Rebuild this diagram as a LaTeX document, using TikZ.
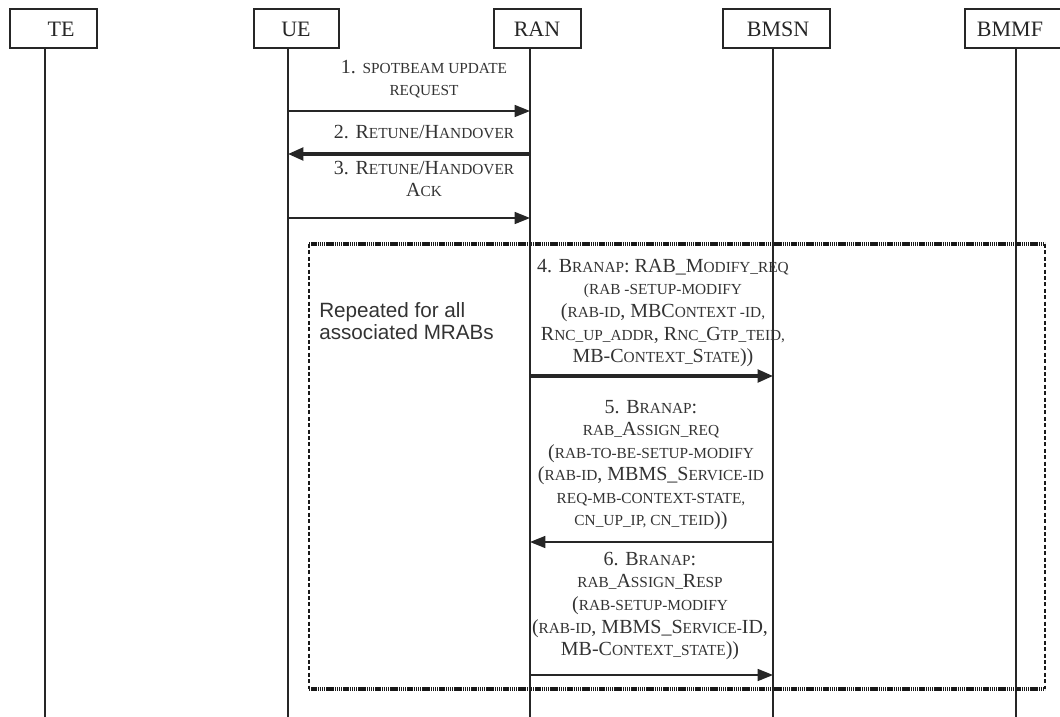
\documentclass[tikz,border=0pt]{standalone}
\usepackage{fontspec}
\setmainfont{Liberation Serif}
\newfontfamily\arialfont{Liberation Sans}
\usetikzlibrary{arrows.meta}
\newcommand\smc[1]{{\fontsize{11.5pt}{16.9pt}\selectfont #1}}
\begin{document}
\begin{tikzpicture}[x=0.75pt,y=-0.75pt,
  ink/.style={black!85},
  hdr/.style={draw=black!85, line width=1.1pt, minimum height=29.25pt, inner sep=0pt},
  hdrtxt/.style={text=black!85, font=\fontsize{16.5pt}{18pt}\selectfont, inner sep=0pt},
  life/.style={draw=black!85, line width=1.1pt},
  msg/.style={draw=black!85, line width=1.1pt, -{Triangle[length=11.5pt,width=9pt]}},
  msgthick/.style={draw=black!85, line width=2.3pt, -{Triangle[length=11.5pt,width=9.5pt]}},
  lbl/.style={text=black!80, align=center, inner sep=0pt, font=\fontsize{15pt}{16.9pt}\selectfont},
  hatch/.style={draw=black!90, line width=3pt, dash pattern=on 1.1pt off 0.5pt},
  sidedash/.style={draw=black!90, line width=2.2pt, dash pattern=on 3pt off 1.8pt},
  note/.style={text=black!80, align=left, inner sep=0pt, font=\arialfont\fontsize{15.5pt}{16.5pt}\selectfont}
]
\useasboundingbox (0,0) rectangle (1060,717);

% header boxes
\node[hdr, minimum width=65.25pt] (te) at (53.5,28.5) {};
\node[hdrtxt] (tet) at (61,29) {TE};
\node[hdr, minimum width=63.75pt] (ue) at (296.5,28.5) {};
\node[hdrtxt] (uet) at (296,29) {UE};
\node[hdr, minimum width=65.25pt] (ran) at (537.5,28.5) {};
\node[hdrtxt] (rant) at (537,29) {RAN};
\node[hdr, minimum width=80.25pt] (bmsn) at (776.5,28.5) {};
\node[hdrtxt] (bmsnt) at (778,29) {BMSN};
\node[hdr, minimum width=75pt] (bmmf) at (1015,28.5) {};
\node[hdrtxt] (bmmft) at (1010,29) {BMMF};

% lifeline ends
\coordinate (teEnd) at (45,717);
\coordinate (ueEnd) at (288,717);
\coordinate (ranEnd) at (530,717);
\coordinate (bmsnEnd) at (773,717);
\coordinate (bmmfEnd) at (1016,717);

\draw[life] (te.south -| teEnd) -- (teEnd);
\draw[life] (ue.south -| ueEnd) -- (ueEnd);
\draw[life] (ran.south -| ranEnd) -- (ranEnd);
\draw[life] (bmsn.south -| bmsnEnd) -- (bmsnEnd);
\draw[life] (bmmf.south -| bmmfEnd) -- (bmmfEnd);

% repeat box
\coordinate (bxTL) at (309,244);
\coordinate (bxTR) at (1045,244);
\coordinate (bxBL) at (309,689);
\coordinate (bxBR) at (1045,689);
\draw[hatch] (bxTL) -- (bxTR);
\draw[hatch] (bxBL) -- (bxBR);
\draw[sidedash] (bxTL) -- (bxBL);
\draw[sidedash] (bxTR) -- (bxBR);
\node[note, anchor=west] (rep) at (319,321) {Repeated for all\\associated MRABs};

% message rows
\coordinate (y1) at (0,111);
\coordinate (y2) at (0,154);
\coordinate (y3) at (0,218);
\coordinate (y4) at (0,376);
\coordinate (y5) at (0,542);
\coordinate (y6) at (0,675);

\draw[msg] (ueEnd |- y1) -- (ranEnd |- y1);
\draw[msgthick] (ranEnd |- y2) -- (ueEnd |- y2);
\draw[msg] (ueEnd |- y3) -- (ranEnd |- y3);
\draw[msgthick] (ranEnd |- y4) -- (bmsnEnd |- y4);
\draw[msg] (bmsnEnd |- y5) -- (ranEnd |- y5);
\draw[msg] (ranEnd |- y6) -- (bmsnEnd |- y6);

% labels
\node[lbl] (m1) at (424,79) {1. \smc{SPOTBEAM UPDATE}\\\smc{REQUEST}};
\node[lbl] (m2) at (424,132) {2. R\smc{ETUNE}/H\smc{ANDOVER}};
\node[lbl] (m3) at (424,179) {3. R\smc{ETUNE}/H\smc{ANDOVER}\\A\smc{CK}};
\node[lbl] (m4) at (663,313) {4. B\smc{RANAP}: RAB\_M\smc{ODIFY\_REQ}\\
  \smc{(RAB -SETUP-MODIFY}\\
  (\smc{RAB-ID}, MBC\smc{ONTEXT -ID,}\\
  R\smc{NC\_UP\_ADDR}, R\smc{NC\_}G\smc{TP\_TEID,}\\
  MB-C\smc{ONTEXT\_}S\smc{TATE}))};
\node[lbl] (m5) at (651,465) {5. B\smc{RANAP}:\\
  \smc{RAB\_}A\smc{SSIGN\_REQ}\\
  (\smc{RAB-TO-BE-SETUP-MODIFY}\\
  (\smc{RAB-ID}, MBMS\_S\smc{ERVICE-ID}\\
  \smc{REQ-MB-CONTEXT-STATE,}\\
  \smc{CN\_UP\_IP, CN\_TEID}))};
\node[lbl] (m6) at (650,606) {6. B\smc{RANAP}:\\
  \smc{RAB\_}A\smc{SSIGN\_}R\smc{ESP}\\
  (\smc{RAB-SETUP-MODIFY}\\
  (\smc{RAB-ID}, MBMS\_S\smc{ERVICE-}ID,\\
  MB-C\smc{ONTEXT\_STATE}))};
\end{tikzpicture}
\end{document}
